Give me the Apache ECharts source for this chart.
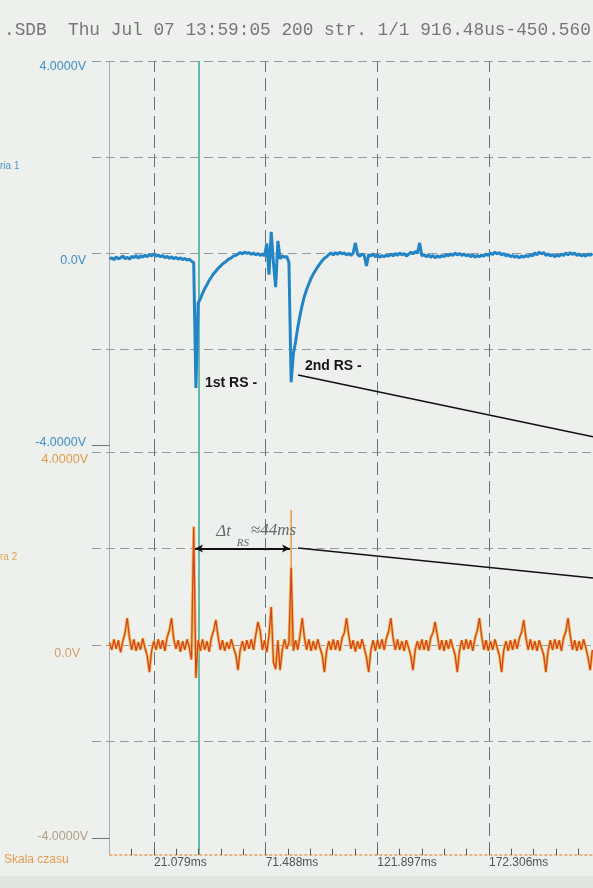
<!DOCTYPE html>
<html>
<head>
<meta charset="utf-8">
<script src="https://cdn.jsdelivr.net/npm/echarts@6/dist/echarts.min.js"></script>
<style>
  html, body { margin: 0; padding: 0; background: #edf0ec; }
  #c { width: 593px; height: 888px; }
</style>
</head>
<body>
<div id="c"></div>
<script>
// Recorder printout: two channels sampled every 1 ms, time in ms, voltage in V.
const headerText = '.SDB  Thu Jul 07 13:59:05 200 str. 1/1 916.48us-450.560';
const sampleStart = 1;   // ms, first stored sample
const sampleStep = 1;    // ms between samples
const recordStart = 0.91648; // ms (916.48us)
const viewRange = [-6.91, 219.27];

// Channel 1 (blue), volts
const ch1Volts = [
  -0.12, -0.10, -0.14, -0.08, -0.12, -0.10, -0.06, -0.12, -0.09, -0.13,
  -0.07, -0.10, -0.05, -0.11, -0.06, -0.09, -0.04, -0.08, -0.03, -0.06,
  -0.02, -0.07, -0.04, -0.08, -0.05, -0.10, -0.07, -0.11, -0.08, -0.12,
  -0.09, -0.13, -0.10, -0.14, -0.11, -0.15, -0.13, -0.17, -0.20, -2.81,
  -1.04, -0.96, -0.84, -0.74, -0.66, -0.57, -0.50, -0.43, -0.38, -0.32,
  -0.28, -0.23, -0.20, -0.16, -0.12, -0.10, -0.06, -0.05, -0.02, 0.01,
  -0.02, 0.02, -0.01, 0.01, -0.03, 0.00, -0.04, -0.01, -0.05, -0.02,
  -0.06, 0.20, -0.45, 0.44, -0.20, -0.71, 0.25, -0.12, -0.06, -0.09,
  -0.07, -0.20, -2.69, -2.10, -1.85, -1.55, -1.30, -1.08, -0.90, -0.76,
  -0.64, -0.53, -0.44, -0.36, -0.29, -0.22, -0.16, -0.11, -0.08, -0.03,
  0.00, -0.04, 0.01, -0.03, 0.02, -0.02, 0.00, -0.04, -0.01, -0.05,
  0.00, 0.21, -0.03, -0.07, -0.02, -0.05, -0.27, -0.03, -0.06, -0.02,
  -0.08, -0.04, -0.09, -0.05, -0.08, -0.04, -0.07, -0.02, -0.06, -0.01,
  -0.05, 0.00, -0.04, -0.01, -0.06, -0.03, 0.02, -0.02, 0.03, 0.00,
  0.21, -0.06, -0.03, -0.08, -0.04, -0.09, -0.05, -0.10, -0.06, -0.09,
  -0.05, -0.08, -0.03, -0.06, -0.02, -0.05, 0.00, -0.04, -0.01, -0.05,
  -0.02, -0.06, -0.03, -0.08, -0.04, -0.09, -0.05, -0.08, -0.04, -0.07,
  -0.02, -0.05, 0.00, -0.03, 0.02, -0.02, 0.01, -0.04, -0.01, -0.06,
  -0.03, -0.08, -0.05, -0.09, -0.06, -0.10, -0.06, -0.09, -0.05, -0.08,
  -0.03, -0.06, 0.00, -0.04, 0.02, -0.02, 0.01, -0.05, -0.02, -0.06,
  -0.03, -0.08, -0.04, -0.07, -0.02, -0.05, 0.00, -0.04, 0.01, -0.03,
  0.00, -0.05, -0.02, -0.06, -0.03, -0.07, -0.02, -0.05, -0.01
];

// Channel 2 (red / yellow), volts
const ch2Volts = [
  0.05, -0.10, 0.12, -0.08, 0.10, -0.15, 0.08, 0.25, 0.56, 0.15,
  -0.10, 0.12, -0.12, 0.06, -0.10, 0.14, -0.06, -0.22, -0.56, -0.12,
  0.08, -0.10, 0.12, -0.08, 0.10, -0.12, 0.16, 0.30, 0.56, 0.12,
  -0.08, 0.10, -0.14, 0.08, -0.10, 0.12, -0.05, -0.30, 2.45, -0.68,
  0.10, -0.12, 0.12, -0.10, 0.08, -0.14, 0.15, 0.30, 0.52, 0.18,
  -0.10, 0.10, -0.12, 0.06, -0.08, 0.12, -0.06, -0.20, -0.52, -0.10,
  0.08, -0.12, 0.10, -0.08, 0.12, -0.10, 0.20, 0.48, 0.30, -0.10,
  0.10, -0.15, 0.20, 0.79, -0.35, -0.50, 0.10, -0.52, -0.10, 0.12,
  -0.08, 0.05, 1.60, -0.12, 0.10, -0.10, 0.20, 0.56, 0.15, -0.10,
  0.12, -0.12, 0.08, -0.10, 0.12, -0.06, -0.20, -0.56, -0.12, 0.08,
  -0.10, 0.12, -0.10, 0.10, -0.12, 0.15, 0.25, 0.56, 0.20, -0.08,
  0.10, -0.14, 0.08, -0.08, 0.12, -0.06, -0.25, -0.56, -0.10, 0.10,
  -0.12, 0.10, -0.08, 0.12, -0.10, 0.14, 0.28, 0.56, 0.15, -0.10,
  0.12, -0.10, 0.08, -0.12, 0.10, -0.05, -0.22, -0.52, -0.10, 0.08,
  -0.10, 0.12, -0.10, 0.10, -0.12, 0.15, 0.25, 0.48, 0.20, -0.10,
  0.10, -0.12, 0.10, -0.08, 0.12, -0.05, -0.20, -0.56, -0.12, 0.10,
  -0.10, 0.12, -0.08, 0.10, -0.12, 0.14, 0.30, 0.56, 0.18, -0.10,
  0.10, -0.12, 0.08, -0.10, 0.12, -0.06, -0.22, -0.56, -0.10, 0.08,
  -0.12, 0.10, -0.10, 0.12, -0.08, 0.14, 0.26, 0.52, 0.15, -0.10,
  0.12, -0.10, 0.08, -0.12, 0.10, -0.06, -0.20, -0.56, -0.12, 0.10,
  -0.10, 0.12, -0.08, 0.10, -0.12, 0.15, 0.28, 0.56, 0.20, -0.10,
  0.10, -0.12, 0.08, -0.10, 0.12, -0.05, -0.25, -0.52, -0.10
];

// Tall overshoot of channel 2 at the second return stroke
const ch2PeakTime = 83;
const ch2PeakVolts = [0.0, 2.8];

// Time grid, tick marks and labels
const gridTimes = [21.079, 71.488, 121.897, 172.306];
const tickTimes = [10.997, 21.079, 31.161, 41.243, 51.324, 61.406, 71.488, 81.570, 91.652,
  101.733, 111.815, 121.897, 131.979, 142.061, 152.142, 162.224, 172.306, 182.388,
  192.470, 202.551, 212.633];
const tickHeight = 0.13; // V, length of the time-scale ticks
const cursorTime = 41.2;

// Voltage grid
const voltGrid = [4, 2, 0, -2];
const voltLabelValues = [4, 0, -4];
const ch1VoltLabels = ['4.0000V', '0.0V', '-4.0000V'];
const ch2VoltLabels = ['4.0000V', '0.0V', '-4.0000V'];
const ch1Range = [-4.146, 4];
const ch2Range = [-4.35, 4];

// Return-stroke annotations
const strokeTimes = [39.6, 82.5];
const deltaLevel = 2.0;
const leader1 = [[86.1, -2.54], [219.27, -3.83]];
const leader2 = [[86.1, 2.01], [219.27, 1.39]];

const ch1Data = ch1Volts.map((v, i) => [sampleStart + i * sampleStep, v]);
const ch2Data = ch2Volts.map((v, i) => [sampleStart + i * sampleStep, v]);
const ch2PeakData = ch2PeakVolts.map(v => [ch2PeakTime, v]);

const hDash = { type: [9, 5], color: '#969a9e', width: 1 };
const vDash = { type: [13, 6], color: '#66737e', width: 1 };
const axisSolid = { type: 'solid', color: '#a9adae', width: 1 };
const cursorStyle = { type: 'solid', color: '#34a898', width: 1.5 };
const inkStyle = { type: 'solid', color: '#111111', width: 1.6 };
const tickStyle = { type: 'solid', color: '#55595c', width: 1 };

function gridLines(range) {
  const items = [];
  voltGrid.forEach(v => items.push({ yAxis: v, lineStyle: hDash }));
  gridTimes.forEach(t => items.push({ xAxis: t, lineStyle: vDash }));
  items.push([{ coord: [recordStart, 4], lineStyle: axisSolid }, { coord: [recordStart, range[0]] }]);
  items.push([{ coord: [viewRange[0], -4], lineStyle: { type: 'solid', color: '#6f7478', width: 1 } }, { coord: [recordStart, -4] }]);
  items.push({ xAxis: cursorTime, lineStyle: cursorStyle });
  return items;
}

function timeScale(range) {
  const items = [[{ coord: [recordStart, range[0]], lineStyle: { type: [3, 2], color: '#e89c5c', width: 1.5 } },
                  { coord: [viewRange[1], range[0]] }]];
  tickTimes.forEach(t => items.push([{ coord: [t, range[0]], lineStyle: tickStyle }, { coord: [t, range[0] + tickHeight] }]));
  return items;
}

const markBase = {
  silent: true, symbol: ['none', 'none'], label: { show: false },
  emphasis: { disabled: true }, animation: false
};

const option = {
  backgroundColor: '#edf0ec',
  animation: false,
  grid: [
    { left: 92, right: 0, top: 61, height: 391 },
    { left: 92, right: 0, top: 452, height: 403 }
  ],
  xAxis: [
    { type: 'value', gridIndex: 0, min: viewRange[0], max: viewRange[1], show: false },
    {
      type: 'value', gridIndex: 1, min: viewRange[0], max: viewRange[1],
      axisLine: { show: false },
      splitLine: { show: false },
      axisTick: { show: false },
      axisLabel: { show: true, customValues: gridTimes, align: 'left', margin: 2,
        color: '#505457', fontSize: 12, fontFamily: 'Liberation Sans',
        formatter: v => v.toFixed(3) + 'ms' }
    }
  ],
  yAxis: [
    { type: 'value', gridIndex: 0, min: ch1Range[0], max: ch1Range[1], show: false },
    { type: 'value', gridIndex: 1, min: ch2Range[0], max: ch2Range[1], show: false }
  ],
  series: [
    { // grid lines, channel 1 area
      type: 'line', xAxisIndex: 0, yAxisIndex: 0, data: ch1Data, showSymbol: false,
      lineStyle: { opacity: 0 }, silent: true, z: 1,
      markLine: Object.assign({}, markBase, { z: 1, data: gridLines(ch1Range) })
    },
    { // grid lines and time scale, channel 2 area + yellow trace
      type: 'line', xAxisIndex: 1, yAxisIndex: 1, data: ch2Data, showSymbol: false,
      lineStyle: { color: '#f3bd4c', width: 3 }, silent: true, z: 3,
      markLine: Object.assign({}, markBase, { z: 1, data: gridLines(ch2Range).concat(timeScale(ch2Range)) })
    },
    {
      type: 'line', xAxisIndex: 1, yAxisIndex: 1, data: ch2PeakData, showSymbol: false,
      lineStyle: { color: '#e9a244', width: 1.6 }, silent: true, z: 3
    },
    { // channel 2 red trace + annotations
      type: 'line', xAxisIndex: 1, yAxisIndex: 1, data: ch2Data, showSymbol: false,
      lineStyle: { color: '#d1432a', width: 1.3 }, silent: true, z: 4,
      markLine: Object.assign({}, markBase, { z: 10, data: [
        [{ coord: [strokeTimes[0], deltaLevel], symbol: 'arrow', symbolSize: [6, 8], lineStyle: Object.assign({}, inkStyle, { width: 2 }) },
         { coord: [strokeTimes[1], deltaLevel], symbol: 'arrow', symbolSize: [6, 8] }],
        [{ coord: leader2[0], lineStyle: inkStyle }, { coord: leader2[1] }]
      ] })
    },
    { // channel 1 blue trace + annotation
      type: 'line', xAxisIndex: 0, yAxisIndex: 0, data: ch1Data, showSymbol: false,
      lineStyle: { color: '#2384c6', width: 3 }, silent: true, z: 5,
      markLine: Object.assign({}, markBase, { z: 10, data: [
        [{ coord: leader1[0], lineStyle: inkStyle }, { coord: leader1[1] }]
      ] })
    }
  ]
};

const chart = echarts.init(document.getElementById('c'), null, { renderer: 'canvas' });
chart.setOption(option);

const px = (g, t, v) => chart.convertToPixel({ xAxisIndex: g, yAxisIndex: g }, [t, v]);
const txt = (x, y, text, font, fill, align, valign) => ({
  type: 'text', x: x, y: y, silent: true, z: 20,
  style: { text: text, font: font, fill: fill, textAlign: align || 'left', textVerticalAlign: valign || 'middle' }
});

const graphics = [];
graphics.push({ type: 'rect', silent: true, z: 0, shape: { x: 0, y: 876, width: 593, height: 12 }, style: { fill: '#e2e6e2' } });
graphics.push(txt(4, 30, headerText, '17.8px "Liberation Mono"', '#777777'));
graphics.push(txt(0, 166, 'ria 1', '10px "Liberation Sans"', '#4a94c9'));
graphics.push(txt(0, 557, 'ra 2', '10px "Liberation Sans"', '#e3a64f'));
graphics.push(txt(4, 860, 'Skala czasu', '12px "Liberation Sans"', '#e59a52'));

const labelOffsets = [6, 8, -2];
voltLabelValues.forEach((v, i) => {
  const p1 = px(0, viewRange[0], v);
  graphics.push(txt(86, p1[1] + labelOffsets[i], ch1VoltLabels[i], '12.5px "Liberation Sans"', '#3d8fcb', 'right'));
  const p2 = px(1, viewRange[0], v);
  const col = i === 0 ? '#e39a48' : (i === 1 ? '#d4a064' : '#b0a08c');
  graphics.push(txt(i === 1 ? 80 : 88, p2[1] + (i === 0 ? 8 : labelOffsets[i]), ch2VoltLabels[i], '12.5px "Liberation Sans"', col, 'right'));
});

const a1 = px(0, 44.1, -2.71);
graphics.push(txt(a1[0], a1[1], '1st RS -', 'bold 14px "Liberation Sans"', '#151515'));
const a2 = px(0, 89.2, -2.35);
graphics.push(txt(a2[0], a2[1], '2nd RS -', 'bold 14px "Liberation Sans"', '#151515'));

const d1 = px(1, 49.2, 2.36);
graphics.push(txt(d1[0], d1[1], 'Δt', 'italic 17px "Liberation Serif"', '#666a6c'));
const d2 = px(1, 58.4, 2.12);
graphics.push(txt(d2[0], d2[1], 'RS', 'italic 11px "Liberation Serif"', '#666a6c'));
const d3 = px(1, 64.8, 2.38);
graphics.push(txt(d3[0], d3[1], '≈44ms', 'italic 17px "Liberation Serif"', '#666a6c'));

chart.setOption({ graphic: graphics });
</script>
</body>
</html>
